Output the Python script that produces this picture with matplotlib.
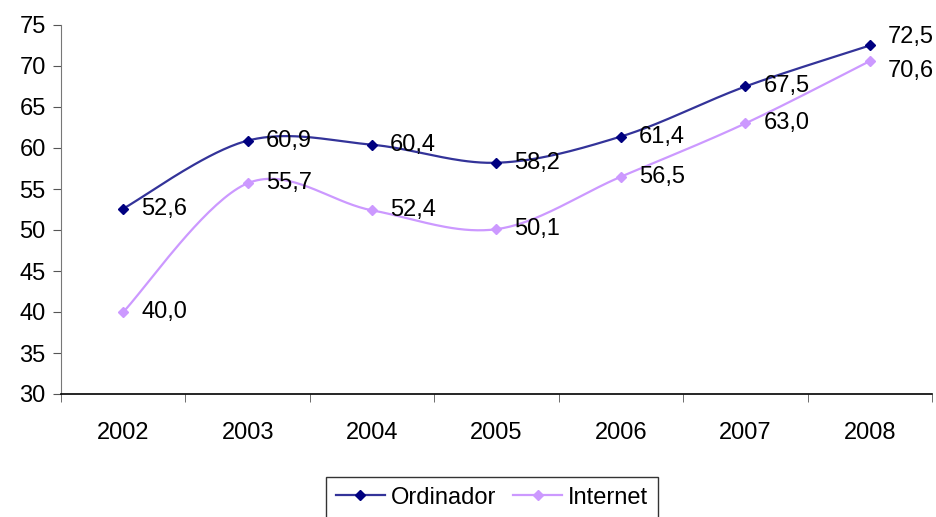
import numpy as np
import matplotlib
matplotlib.use("Agg")
import matplotlib.pyplot as plt
from matplotlib.ticker import MultipleLocator, FixedLocator

years = ["2002", "2003", "2004", "2005", "2006", "2007", "2008"]
ordinador = [52.6, 60.9, 60.4, 58.2, 61.4, 67.5, 72.5]
internet = [40.0, 55.7, 52.4, 50.1, 56.5, 63.0, 70.6]
series_names = ["Ordinador", "Internet"]

plt.rcParams['font.family'] = ['Liberation Sans', 'DejaVu Sans']
FS = 17


def excel_smooth(xs, ys, n=40):
    P = np.column_stack([xs, ys]).astype(float)
    out = []
    m = len(P)
    for i in range(m - 1):
        p0 = P[i - 1] if i > 0 else P[i]
        p1 = P[i]
        p2 = P[i + 1]
        p3 = P[i + 2] if i + 2 < m else P[i + 1]
        c1 = p1 + (p2 - p0) / 6.0
        c2 = p2 - (p3 - p1) / 6.0
        t = np.linspace(0, 1, n)[:, None]
        seg = (1 - t) ** 3 * p1 + 3 * (1 - t) ** 2 * t * c1 + 3 * (1 - t) * t ** 2 * c2 + t ** 3 * p2
        out.append(seg if i == 0 else seg[1:])
    s = np.vstack(out)
    return s[:, 0], s[:, 1]


fig = plt.figure(figsize=(9.36, 5.17), dpi=100)
ax = fig.add_axes([61 / 936, 1 - 394 / 517, (932 - 61) / 936, (394 - 25) / 517])

x = np.arange(len(years))
styles = [
    dict(line="#333399", marker="#000080", last_dy=6),
    dict(line="#CC99FF", marker="#CC99FF", last_dy=-7),
]
handles = []
for vals, name, st in zip([ordinador, internet], series_names, styles):
    sx, sy = excel_smooth(x, vals)
    ax.plot(sx, sy, color=st["line"], lw=1.6, zorder=2)
    ax.plot(x, vals, linestyle="none", marker="D", markersize=5.5,
            color=st["marker"], zorder=3)
    h, = ax.plot([], [], color=st["line"], lw=1.6, marker="D", markersize=5.5,
                 markerfacecolor=st["marker"], markeredgecolor=st["marker"], label=name)
    handles.append(h)
    for i, (xi, v) in enumerate(zip(x, vals)):
        dy = st["last_dy"] if i == len(vals) - 1 else 0
        ax.annotate(f"{v:.1f}".replace(".", ","), (xi, v), xytext=(13, dy),
                    textcoords="offset points", ha="left", va="center",
                    fontsize=FS, color="black", zorder=4, annotation_clip=False)

ax.set_xlim(-0.5, len(years) - 0.5)
ax.set_ylim(30, 75)
ax.yaxis.set_major_locator(MultipleLocator(5))
ax.set_xticks(x)
ax.set_xticklabels(years, fontsize=FS)
ax.xaxis.set_minor_locator(FixedLocator(np.arange(-0.5, len(years), 1.0)))
ax.tick_params(axis="x", which="major", length=0, pad=20)
ax.tick_params(axis="x", which="minor", length=6, direction="out", color="#555555")
ax.tick_params(axis="y", which="major", length=6, direction="out", labelsize=FS, pad=5, color="#555555")
for s in ["top", "right"]:
    ax.spines[s].set_visible(False)
ax.spines["left"].set_color("#777777")
ax.spines["bottom"].set_color("black")
ax.spines["bottom"].set_linewidth(1.2)

leg = fig.legend(handles=handles, loc="lower center", bbox_to_anchor=(492 / 936, -0.025),
                 ncol=2, fontsize=FS, frameon=True, fancybox=False, edgecolor="black",
                 handlelength=2.1, columnspacing=0.7, handletextpad=0.25, borderpad=0.4,
                 borderaxespad=0.5)
leg.get_frame().set_linewidth(1.0)

fig.savefig("out.png", dpi=100)
